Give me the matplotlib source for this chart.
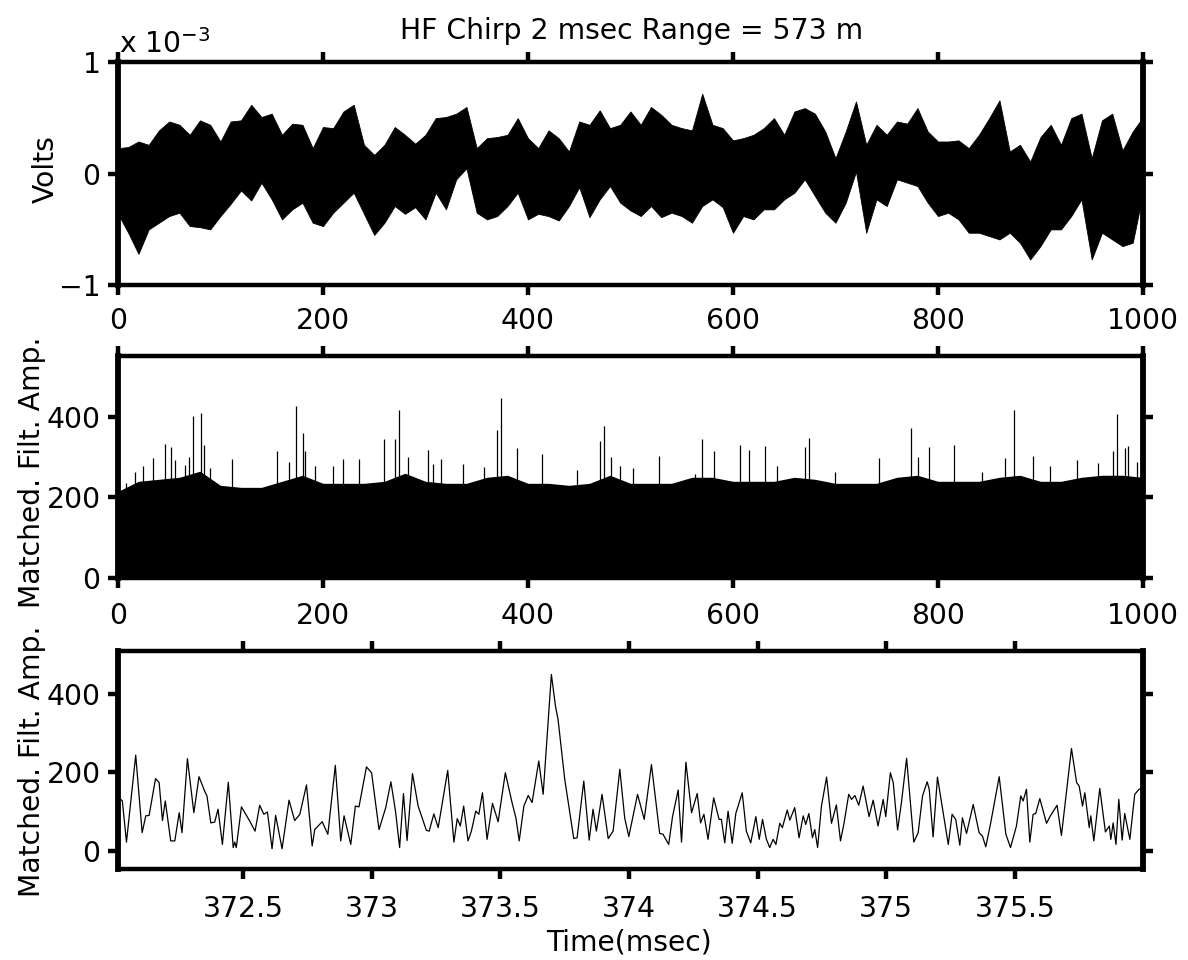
import numpy as np
import matplotlib
matplotlib.use("Agg")
import matplotlib.pyplot as plt
from matplotlib.ticker import FixedLocator, FuncFormatter

plt.rcParams['font.family'] = ['DejaVu Sans']
plt.rcParams['mathtext.default'] = 'regular'

# ---- top panel: raw receiver voltage (units of 1e-3 V), envelope read every 10 ms
raw_t = np.arange(0, 1001, 10)
raw_upper = [0.23, 0.24, 0.29, 0.26, 0.39, 0.47, 0.44, 0.35, 0.48, 0.44,
             0.29, 0.47, 0.48, 0.62, 0.51, 0.54, 0.35, 0.45, 0.44, 0.23,
             0.42, 0.41, 0.56, 0.62, 0.26, 0.17, 0.26, 0.42, 0.35, 0.27,
             0.35, 0.50, 0.51, 0.54, 0.60, 0.23, 0.32, 0.33, 0.35, 0.50,
             0.32, 0.23, 0.39, 0.32, 0.20, 0.47, 0.44, 0.57, 0.41, 0.44,
             0.56, 0.44, 0.60, 0.53, 0.44, 0.41, 0.39, 0.72, 0.44, 0.41,
             0.30, 0.32, 0.35, 0.41, 0.50, 0.35, 0.56, 0.59, 0.54, 0.38,
             0.14, 0.38, 0.65, 0.26, 0.44, 0.35, 0.47, 0.45, 0.59, 0.38,
             0.29, 0.29, 0.30, 0.23, 0.35, 0.50, 0.66, 0.20, 0.26, 0.11,
             0.33, 0.44, 0.26, 0.50, 0.54, 0.14, 0.48, 0.54, 0.21, 0.38,
             0.51]
raw_lower = [-0.36, -0.53, -0.72, -0.50, -0.44, -0.38, -0.35, -0.47, -0.48, -0.50,
             -0.38, -0.27, -0.15, -0.24, -0.08, -0.23, -0.41, -0.32, -0.26, -0.44,
             -0.47, -0.35, -0.26, -0.17, -0.36, -0.55, -0.44, -0.29, -0.36, -0.30,
             -0.41, -0.17, -0.32, -0.05, 0.05, -0.35, -0.41, -0.38, -0.29, -0.17,
             -0.41, -0.36, -0.38, -0.42, -0.29, -0.12, -0.39, -0.23, -0.11, -0.26,
             -0.33, -0.38, -0.29, -0.39, -0.35, -0.38, -0.44, -0.29, -0.23, -0.30,
             -0.53, -0.38, -0.41, -0.32, -0.32, -0.23, -0.17, -0.05, -0.20, -0.35,
             -0.44, -0.26, 0.02, -0.53, -0.23, -0.29, -0.05, -0.08, -0.11, -0.26,
             -0.38, -0.35, -0.41, -0.53, -0.53, -0.56, -0.59, -0.53, -0.62, -0.77,
             -0.65, -0.50, -0.50, -0.38, -0.23, -0.77, -0.53, -0.59, -0.65, -0.62,
             -0.17]

# ---- middle panel: matched filter output, dense part every 20 ms + tall spikes
mf_t = np.arange(0, 1001, 20)
mf_base = [215, 240, 245, 250, 265, 230, 225, 225, 240, 255,
           235, 235, 235, 240, 260, 240, 235, 235, 250, 255,
           235, 235, 230, 235, 255, 235, 235, 235, 250, 250,
           240, 240, 240, 250, 245, 235, 235, 235, 250, 255,
           240, 240, 240, 250, 255, 240, 240, 250, 255, 255,
           250]
spike_t = [8.1, 16.9, 24.7, 33.8, 45.5, 52.0, 55.3, 65.0, 68.9, 73.5,
           81.3, 83.9, 89.8, 111.2, 154.8, 166.5, 173.6, 180.2, 182.8, 191.9,
           210.1, 219.2, 234.8, 259.5, 269.9, 273.8, 282.9, 302.4, 307.6, 314.8,
           336.9, 357.0, 369.4, 373.3, 388.9, 413.6, 447.4, 470.2, 474.1, 480.6,
           489.7, 502.7, 527.4, 563.2, 569.7, 581.3, 606.8, 615.3, 630.9, 642.6,
           670.6, 673.8, 699.8, 742.1, 774.0, 780.5, 790.9, 815.6, 842.9, 865.0,
           874.1, 892.3, 909.3, 936.0, 956.1, 971.1, 974.3, 982.1, 985.4, 993.8]
spike_h = [235, 264, 277, 297, 333, 325, 293, 281, 300, 401,
           409, 330, 272, 295, 316, 289, 427, 359, 314, 277,
           277, 295, 295, 345, 345, 417, 300, 318, 283, 296,
           282, 275, 368, 447, 322, 307, 268, 339, 376, 300,
           277, 272, 303, 258, 346, 314, 331, 318, 328, 277,
           325, 347, 264, 297, 372, 300, 325, 330, 262, 297,
           417, 303, 277, 293, 285, 314, 407, 322, 328, 289]

# ---- bottom panel: zoom around the target return
zoom_t = [372.013, 372.024, 372.030, 372.046, 372.082, 372.107, 372.121, 372.134, 372.159, 372.173,
          372.186, 372.197, 372.218, 372.234, 372.251, 372.262, 372.283, 372.308, 372.328, 372.350,
          372.359, 372.374, 372.389, 372.402, 372.419, 372.442, 372.461, 372.467, 372.473, 372.493,
          372.525, 372.546, 372.564, 372.580, 372.594, 372.612, 372.626, 372.651, 372.678, 372.700,
          372.720, 372.746, 372.768, 372.778, 372.807, 372.829, 372.858, 372.879, 372.892, 372.918,
          372.936, 372.950, 372.979, 372.999, 373.028, 373.054, 373.074, 373.092, 373.108, 373.123,
          373.137, 373.158, 373.180, 373.212, 373.223, 373.241, 373.258, 373.295,
          373.319, 373.332, 373.344, 373.357, 373.374, 373.387, 373.404, 373.416, 373.430, 373.448,
          373.469, 373.491, 373.519, 373.545, 373.560, 373.573, 373.591, 373.608, 373.623, 373.649,
          373.666, 373.698, 373.714, 373.724, 373.750, 373.785, 373.798, 373.824, 373.845, 373.860,
          373.873, 373.895, 373.919, 373.938, 373.964, 373.983, 373.999, 374.033, 374.059, 374.087,
          374.119, 374.132, 374.154, 374.169, 374.191, 374.204, 374.221, 374.243, 374.265, 374.278,
          374.291, 374.307, 374.329, 374.350, 374.359, 374.372, 374.385, 374.401, 374.415, 374.440,
          374.456, 374.473, 374.493, 374.506, 374.519, 374.534, 374.547, 374.560, 374.571, 374.586,
          374.596, 374.615,
          374.625, 374.644, 374.661, 374.677, 374.687, 374.699, 374.713, 374.722, 374.733, 374.748,
          374.768, 374.787, 374.806, 374.822, 374.836, 374.854, 374.865, 374.878, 374.893, 374.910,
          374.933, 374.949, 374.968, 374.988, 374.998, 375.016, 375.027, 375.044, 375.059, 375.079,
          375.107, 375.124, 375.141, 375.159, 375.167, 375.182, 375.199, 375.221, 375.241, 375.256,
          375.270, 375.286, 375.296, 375.312, 375.338, 375.361, 375.374, 375.387, 375.406, 375.439,
          375.465, 375.483, 375.506, 375.523, 375.532, 375.545, 375.558, 375.571, 375.581, 375.597,
          375.623, 375.638, 375.664, 375.681, 375.720, 375.740, 375.750, 375.763, 375.772, 375.789,
          375.795, 375.807, 375.830, 375.852, 375.867, 375.873, 375.882, 375.893, 375.904, 375.917,
          375.927, 375.947, 375.966, 375.983, 375.998]
zoom_amp = [128, 131, 127, 22, 244, 46, 89, 90, 184, 174,
            77, 127, 25, 25, 97, 46, 235, 97, 189, 152,
            140, 71, 73, 106, 16, 175, 8, 22, 8, 112,
            76, 50, 116, 93, 99, 5, 90, 5, 129, 77,
            93, 168, 12, 54, 74, 42, 218, 25, 89, 16,
            114, 112, 214, 199, 54, 110, 176, 101, 8, 146,
            26, 197, 114, 52, 50, 94, 59, 205,
            22, 82, 63, 114, 25, 50, 101, 93, 148, 29,
            121, 74, 199, 123, 84, 25, 114, 141, 123, 229,
            144, 450, 369, 335, 182, 31, 33, 178, 27, 106,
            50, 144, 31, 50, 208, 84, 36, 144, 80, 220,
            44, 42, 16, 87, 155, 22, 226, 97, 146, 71,
            93, 29, 135, 80, 80, 20, 101, 19, 95, 148,
            50, 20, 87, 29, 80, 29, 8, 29, 16, 70,
            59, 104,
            78, 110, 33, 89, 67, 95, 33, 54, 8, 114,
            188, 70, 117, 25, 71, 144, 131, 141, 116, 165,
            87, 129, 63, 131, 87, 199, 174, 53, 123, 236,
            22, 46, 140, 176, 157, 35, 188, 97, 16, 93,
            80, 14, 84, 44, 118, 46, 37, 10, 71, 189,
            42, 8, 63, 140, 127, 157, 22, 93, 95, 133,
            70, 89, 116, 39, 261, 174, 165, 114, 148, 59,
            89, 25, 159, 48, 63, 29, 71, 16, 131, 27,
            95, 29, 144, 157, 160]

FS = 20.3
W, H = 1188.0, 960.0
fig = plt.figure(figsize=(11.88, 9.6), dpi=100)
ax1 = fig.add_axes([0.0993, 0.7031, 0.8628, 0.2318])
ax2 = fig.add_axes([0.0993, 0.3979, 0.8628, 0.2313])
ax3 = fig.add_axes([0.0993, 0.0948, 0.8628, 0.2274])

for ax, xpad in ((ax1, 9.0), (ax2, 10.5), (ax3, 12.0)):
    for side in ('top', 'bottom'):
        ax.spines[side].set_linewidth(3.2)
    for side in ('left', 'right'):
        ax.spines[side].set_linewidth(4.2)
    ax.tick_params(direction='out', length=7, width=3.2, top=True, right=True,
                   labelsize=FS)
    ax.tick_params(axis='x', pad=xpad)
    ax.tick_params(axis='y', pad=5.5)

# top
ax1.fill_between(raw_t, np.array(raw_lower) * 1e-3, np.array(raw_upper) * 1e-3,
                 color='k', lw=0.6)
ax1.set_xlim(0, 1000)
ax1.set_ylim(-1e-3, 1e-3)
ax1.set_xticks(range(0, 1001, 200))
ax1.set_yticks([-1e-3, 0, 1e-3])
ax1.set_yticklabels(['\u22121', '0', '1'])
fig.text(118.6 / W, 1 - 53 / H, 'x 10$^{\u22123}$', fontsize=FS, ha='left', va='baseline')

# middle
ax2.fill_between(mf_t, 0, mf_base, color='k', lw=0)
ax2.vlines(spike_t, 0, spike_h, color='k', lw=0.9)
ax2.set_xlim(0, 1000)
ax2.set_ylim(0, 551)
ax2.set_xticks(range(0, 1001, 200))
ax2.set_yticks([0, 200, 400])

# bottom
ax3.plot(zoom_t, zoom_amp, color='k', lw=0.9)
ax3.set_xlim(372.013, 375.998)
ax3.set_ylim(-46.7, 510.8)
ax3.xaxis.set_major_locator(FixedLocator([372.5, 373, 373.5, 374, 374.5, 375, 375.5]))
ax3.xaxis.set_major_formatter(FuncFormatter(lambda v, p: '%g' % v))
ax3.set_yticks([0, 200, 400])

# labels
fig.text(54 / W, 1 - 169 / H, 'Volts', fontsize=FS, rotation=90,
         rotation_mode='anchor', ha='center', va='baseline')
fig.text(40 / W, 1 - 472 / H, 'Matched. Filt. Amp.', fontsize=FS, rotation=90,
         rotation_mode='anchor', ha='center', va='baseline')
fig.text(40 / W, 1 - 761 / H, 'Matched. Filt. Amp.', fontsize=FS, rotation=90,
         rotation_mode='anchor', ha='center', va='baseline')
fig.text(629.5 / W, 1 - 951 / H, 'Time(msec)', fontsize=FS, ha='center', va='baseline')
fig.text(631.5 / W, 1 - 39 / H, 'HF Chirp 2 msec Range = 573 m', fontsize=FS,
         ha='center', va='baseline')

fig.savefig('out.png', dpi=100)
